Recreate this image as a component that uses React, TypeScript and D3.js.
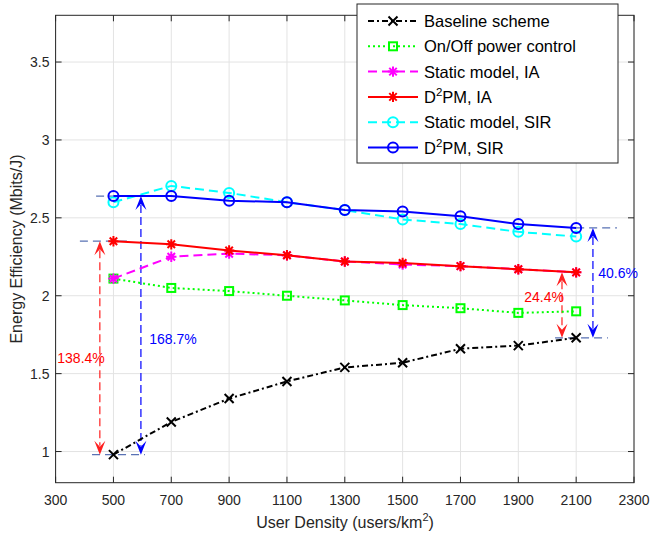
import React from 'react';
import * as d3 from 'd3';

const userDensity = [500, 700, 900, 1100, 1300, 1500, 1700, 1900, 2100];
const baseline = [0.98, 1.19, 1.34, 1.45, 1.54, 1.57, 1.66, 1.68, 1.73];
const onOff = [2.11, 2.05, 2.03, 2.0, 1.97, 1.94, 1.92, 1.89, 1.9];
const staticIA = [2.11, 2.25, 2.27, 2.26, 2.22, 2.2, 2.19, 2.17, 2.15];
const d2pmIA = [2.35, 2.33, 2.29, 2.26, 2.22, 2.21, 2.19, 2.17, 2.15];
const staticSIR = [2.6, 2.705, 2.66, 2.6, 2.55, 2.49, 2.46, 2.41, 2.38];
const d2pmSIR = [2.64, 2.64, 2.61, 2.6, 2.55, 2.54, 2.51, 2.46, 2.435];

const xTicks = [300, 500, 700, 900, 1100, 1300, 1500, 1700, 1900, 2100, 2300];
const yTicks = [1, 1.5, 2, 2.5, 3, 3.5];

// dashed guide lines: [x1, x2, y]
const guides = [
  [440, 590, 2.64],
  [384, 557, 2.35],
  [426, 609, 0.98],
  [2100, 2241, 2.435],
  [2058, 2100, 2.15],
  [2027, 2210, 1.73],
];
// double arrows: [x, yTop, yBottom, colour]
const arrows: [number, number, number, string][] = [
  [453, 2.35, 0.98, '#ff2020'],
  [595, 2.64, 0.98, '#0000ff'],
  [2051, 2.15, 1.73, '#ff2020'],
  [2158, 2.435, 1.73, '#0000ff'],
];
// labels: [x, y, text, colour]
const notes: [number, number, string, string][] = [
  [388, 1.6, '138.4%', '#ff0000'],
  [706, 1.72, '168.7%', '#0000ff'],
  [1989, 1.99, '24.4%', '#ff0000'],
  [2245, 2.145, '40.6%', '#0000ff'],
];

const font = '"Liberation Sans", Arial, Helvetica, sans-serif';

const series = [
  { name: 'Baseline scheme', values: baseline, color: '#000000', dash: '6,3,2,3', marker: 'x' },
  { name: 'On/Off power control', values: onOff, color: '#00ff00', dash: '2,3', marker: 'square' },
  { name: 'Static model, IA', values: staticIA, color: '#ff00ff', dash: '9,5', marker: 'star' },
  { name: 'D2PM, IA', values: d2pmIA, color: '#ff0000', dash: null, marker: 'star' },
  { name: 'Static model, SIR', values: staticSIR, color: '#00ffff', dash: '9,5', marker: 'circle' },
  { name: 'D2PM, SIR', values: d2pmSIR, color: '#0000ff', dash: null, marker: 'circle' },
];

const Marker = ({ type, x, y, color }: { type: string; x: number; y: number; color: string }) => {
  const s = 4.5;
  if (type === 'x')
    return (
      <path d={`M${x - s},${y - s}L${x + s},${y + s}M${x - s},${y + s}L${x + s},${y - s}`} stroke={color} strokeWidth={2} />
    );
  if (type === 'square')
    return <rect x={x - 4} y={y - 4} width={8} height={8} fill="none" stroke={color} strokeWidth={2} />;
  if (type === 'circle') return <circle cx={x} cy={y} r={5} fill="none" stroke={color} strokeWidth={2} />;
  const r = 5.2;
  const d = r * 0.72;
  return (
    <path
      d={`M${x - r},${y}L${x + r},${y}M${x},${y - r}L${x},${y + r}M${x - d},${y - d}L${x + d},${y + d}M${x - d},${y + d}L${x + d},${y - d}`}
      stroke={color}
      strokeWidth={2}
    />
  );
};

const Label = ({ name, ...rest }: any) => {
  if (name.startsWith('D2PM')) {
    return (
      <text {...rest}>
        D<tspan dy={-7} fontSize={11.5}>2</tspan>
        <tspan dy={7}>{name.slice(2)}</tspan>
      </text>
    );
  }
  return <text {...rest}>{name}</text>;
};

export default function App() {
  const W = 650;
  const H = 540;
  const m = { left: 55.6, right: 634, top: 15.3, bottom: 482.7 };
  const x = d3.scaleLinear().domain([300, 2300]).range([m.left, m.right]);
  const y = d3.scaleLinear().domain([0.8, 3.8]).range([m.bottom, m.top]);
  const line = d3
    .line<number>()
    .x((_, i) => x(userDensity[i]))
    .y((d) => y(d));
  const axisColor = '#262626';

  const head = (px: number, py: number, dir: number, color: string) => {
    // vback2 style arrow head, dir = 1 points down, -1 points up
    const L = 14;
    const w = 5.5;
    const n = 8;
    return (
      <path
        d={`M${px},${py}L${px - w},${py - dir * L}L${px},${py - dir * n}L${px + w},${py - dir * L}Z`}
        fill={color}
        stroke="none"
      />
    );
  };

  return (
    <svg width={W} height={H} style={{ position: 'absolute', left: 0, top: 0, background: '#fff' }} fontFamily={font}>
      <rect width={W} height={H} fill="#fff" />
      {/* grid */}
      <g stroke="#e3e3e3" strokeWidth={1}>
        {xTicks.map((t) => (
          <line key={'gx' + t} x1={x(t)} x2={x(t)} y1={m.top} y2={m.bottom} />
        ))}
        {yTicks.map((t) => (
          <line key={'gy' + t} x1={m.left} x2={m.right} y1={y(t)} y2={y(t)} />
        ))}
      </g>
      {/* ticks */}
      <g stroke={axisColor} strokeWidth={1}>
        {xTicks.map((t) => (
          <g key={'tx' + t}>
            <line x1={x(t)} x2={x(t)} y1={m.bottom} y2={m.bottom - 6} />
            <line x1={x(t)} x2={x(t)} y1={m.top} y2={m.top + 6} />
          </g>
        ))}
        {yTicks.map((t) => (
          <g key={'ty' + t}>
            <line x1={m.left} x2={m.left + 6} y1={y(t)} y2={y(t)} />
            <line x1={m.right} x2={m.right - 6} y1={y(t)} y2={y(t)} />
          </g>
        ))}
      </g>
      <rect
        x={m.left}
        y={m.top}
        width={m.right - m.left}
        height={m.bottom - m.top}
        fill="none"
        stroke={axisColor}
        strokeWidth={1}
      />
      <g fontSize={14} fill={axisColor}>
        {xTicks.map((t) => (
          <text key={'lx' + t} x={x(t)} y={505} textAnchor="middle">
            {t}
          </text>
        ))}
        {yTicks.map((t) => (
          <text key={'ly' + t} x={49.5} y={y(t) + 5} textAnchor="end">
            {t}
          </text>
        ))}
      </g>
      <text x={345} y={528} fontSize={16} textAnchor="middle" fill={axisColor}>
        User Density (users/km<tspan dy={-7} fontSize={11}>2</tspan>
        <tspan dy={7}>)</tspan>
      </text>
      <text
        transform={`translate(22,${(m.top + m.bottom) / 2}) rotate(-90)`}
        fontSize={16}
        textAnchor="middle"
        fill={axisColor}
      >
        Energy Efficiency (Mbits/J)
      </text>

      {/* guide lines and arrows */}
      <g stroke="#3d5aa8" strokeWidth={1.2} strokeDasharray="8,5" opacity={0.85}>
        {guides.map((g, i) => (
          <line key={'g' + i} x1={x(g[0])} x2={x(g[1])} y1={y(g[2])} y2={y(g[2])} />
        ))}
      </g>
      {arrows.map(([ax, y1, y2, c], i) => (
        <g key={'a' + i}>
          <line x1={x(ax)} x2={x(ax)} y1={y(y1) + 9} y2={y(y2) - 9} stroke={c} strokeWidth={1.2} strokeDasharray="8,4" />
          {head(x(ax), y(y1), -1, c)}
          {head(x(ax), y(y2), 1, c)}
        </g>
      ))}

      {/* series */}
      {series.map((s) => (
        <g key={s.name}>
          <path
            d={line(s.values) || ''}
            fill="none"
            stroke={s.color}
            strokeWidth={2}
            strokeDasharray={s.dash || undefined}
          />
          {s.values.map((v, i) => (
            <Marker key={i} type={s.marker} x={x(userDensity[i])} y={y(v)} color={s.color} />
          ))}
        </g>
      ))}

      {notes.map(([nx, ny, t, c]) => (
        <text key={t} x={x(nx)} y={y(ny) + 5} fontSize={14} fill={c} textAnchor="middle">
          {t}
        </text>
      ))}

      {/* legend */}
      <rect x={357} y={4} width={261} height={159} fill="#fff" stroke={axisColor} strokeWidth={1} />
      {series.map((s, i) => {
        const ly = 21 + i * 25.3;
        return (
          <g key={'lg' + s.name}>
            <line
              x1={368}
              x2={418}
              y1={ly}
              y2={ly}
              stroke={s.color}
              strokeWidth={2}
              strokeDasharray={s.dash || undefined}
            />
            <Marker type={s.marker} x={393} y={ly} color={s.color} />
            <Label name={s.name} x={424} y={ly + 6} fontSize={16.5} fill="#000" />
          </g>
        );
      })}
    </svg>
  );
}
